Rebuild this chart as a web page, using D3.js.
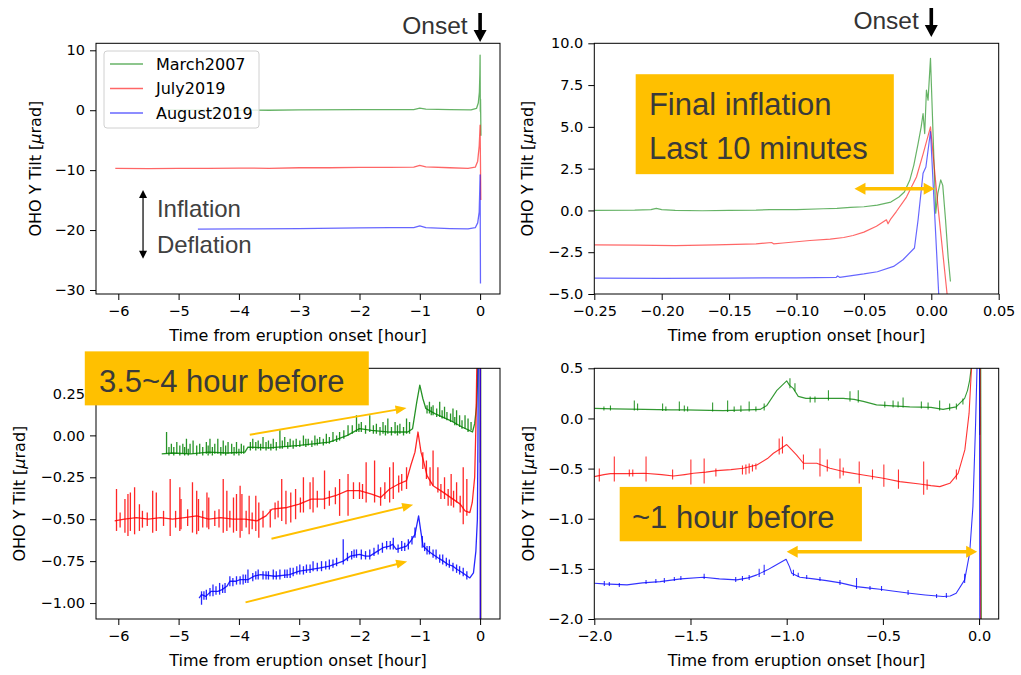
<!DOCTYPE html>
<html>
<head>
<meta charset="utf-8" />
<title>OHO Y Tilt</title>
<script src="https://d3js.org/d3.v7.min.js"></script>
<style>
  body { margin: 0; background: #fff; }
</style>
</head>
<body>
<svg id="chart" width="1021" height="675"></svg>
<script>
// ---- series names / tick labels ----
const seriesNames = ["March2007", "July2019", "August2019"];
const seriesColors = ["green", "red", "blue"];

const xTicksHours = [-6, -5, -4, -3, -2, -1, 0];
const yTicksP1 = [-30, -20, -10, 0, 10];
const xTicksP2 = [-0.25, -0.2, -0.15, -0.1, -0.05, 0, 0.05];
const yTicksP2 = [-5, -2.5, 0, 2.5, 5, 7.5, 10];
const yTicksP3 = [-1, -0.75, -0.5, -0.25, 0, 0.25];
const xTicksP4 = [-2, -1.5, -1, -0.5, 0];
const yTicksP4 = [-2, -1.5, -1, -0.5, 0, 0.5];

// ---- panel 1: whole record, offsets 0 / -10 / -20 ----
const p1Green = [[-5.3,0.05],[-4.5,0.02],[-3.5,0.0],[-3.0,0.05],[-2.0,0.1],[-1.5,0.1],[-1.1,0.1],[-1.0,0.35],[-0.9,0.2],[-0.5,0.1],[-0.15,0.05],[-0.06,0.3],[-0.03,1.2],[-0.012,3.0],[-0.004,6.0],[0.0,9.2],[0.0033,-0.16],[0.007,1.83],[0.0142,-4.25]];
const p1Red = [[-6.05,-9.7],[-5.5,-9.75],[-5.0,-9.7],[-4.5,-9.7],[-4.0,-9.65],[-3.5,-9.7],[-3.0,-9.6],[-2.5,-9.6],[-2.0,-9.55],[-1.5,-9.55],[-1.1,-9.5],[-1.0,-9.2],[-0.9,-9.45],[-0.5,-9.6],[-0.2,-9.7],[-0.08,-9.5],[-0.04,-8.5],[-0.015,-6.0],[-0.004,-3.5],[0.0,-2.5],[0.012,-15.0]];
const p1Blue = [[-4.68,-19.85],[-4.0,-19.8],[-3.0,-19.75],[-2.0,-19.65],[-1.5,-19.6],[-1.1,-19.6],[-1.0,-19.3],[-0.9,-19.6],[-0.5,-19.75],[-0.2,-19.8],[-0.08,-19.6],[-0.04,-18.8],[-0.015,-17.0],[-0.005,-13.0],[0.0,-10.8],[0.006,-28.9]];

// ---- panel 2: last 15 minutes ----
const p2Green = [[-0.25,0.0],[-0.22,0.02],[-0.208,0.05],[-0.204,0.12],[-0.2,0.05],[-0.19,0.0],[-0.17,-0.02],[-0.15,0.0],[-0.13,0.02],[-0.12,0.05],[-0.1,0.05],[-0.08,0.1],[-0.07,0.12],[-0.06,0.18],[-0.05,0.22],[-0.04,0.32],[-0.03,0.5],[-0.024,0.8],[-0.02,1.1],[-0.016,1.8],[-0.013,2.7],[-0.0098,4.0],[-0.0075,5.0],[-0.0061,5.8],[-0.0049,4.6],[-0.0036,7.2],[-0.0024,6.6],[-0.0006,9.1],[0.0033,-0.16],[0.0048,1.0],[0.007,1.83],[0.0085,1.5],[0.0105,-0.5],[0.0125,-2.8],[0.0142,-4.25]];
const p2Red = [[-0.25,-2.06],[-0.22,-2.08],[-0.19,-2.1],[-0.16,-2.06],[-0.13,-2.0],[-0.1185,-1.92],[-0.117,-2.0],[-0.11,-1.95],[-0.09,-1.8],[-0.075,-1.72],[-0.065,-1.62],[-0.058,-1.5],[-0.05,-1.3],[-0.0407,-0.95],[-0.0333,-0.56],[-0.0321,-0.8],[-0.03,-0.5],[-0.0258,-0.05],[-0.0184,0.8],[-0.011,2.0],[-0.006,3.4],[-0.0006,5.0],[0.005,0.2],[0.0117,-5.0],[0.013,-5.5]];
const p2Blue = [[-0.25,-4.05],[-0.2,-4.07],[-0.15,-4.05],[-0.1,-4.03],[-0.0705,-4.0],[-0.0695,-3.92],[-0.068,-4.0],[-0.05,-3.8],[-0.04,-3.67],[-0.028,-3.35],[-0.021,-2.95],[-0.0125,-2.25],[-0.0098,-0.56],[-0.0061,2.23],[-0.004,2.6],[-0.0006,4.72],[0.0055,-5.0],[0.007,-6.0]];

// ---- panel 3: fine scale, whole record (line + spikes [h, low, high]) ----
const p3Green = [[-5.28,-0.11],[-5.1,-0.105],[-4.8,-0.11],[-4.5,-0.1],[-4.2,-0.105],[-3.9,-0.1],[-3.85,-0.07],[-3.5,-0.075],[-3.0,-0.06],[-2.5,-0.04],[-2.2,0.0],[-2.0,0.04],[-1.8,0.03],[-1.5,0.02],[-1.2,0.02],[-1.12,0.04],[-1.05,0.2],[-1.0,0.3],[-0.95,0.22],[-0.9,0.16],[-0.75,0.13],[-0.5,0.09],[-0.3,0.05],[-0.18,0.03],[-0.126,0.02],[-0.09,0.07],[-0.06,0.17],[-0.045,0.3],[-0.04,0.39],[-0.03,0.6],[0.0,9.2],[0.0033,-0.16],[0.007,1.83],[0.0142,-4.25]];
const p3GreenSpikes = [[-5.2,-0.11,0.02],[-5.12,-0.11,-0.05],[-5.03,-0.11,-0.04],[-4.93,-0.11,-0.05],[-4.87,-0.11,-0.02],[-4.81,-0.11,-0.05],[-4.76,-0.11,-0.03],[-4.65,-0.11,-0.05],[-4.54,-0.11,-0.04],[-4.48,-0.11,-0.02],[-4.4,-0.11,-0.05],[-4.35,-0.11,-0.02],[-4.26,-0.11,-0.03],[-4.18,-0.11,-0.04],[-4.12,-0.11,-0.05],[-4.04,-0.11,-0.04],[-3.96,-0.11,-0.05],[-3.77,-0.08,-0.02],[-3.68,-0.08,-0.03],[-3.6,-0.08,-0.01],[-3.51,-0.08,-0.03],[-3.43,-0.08,-0.02],[-3.32,-0.08,0.03],[-3.24,-0.07,-0.01],[-3.15,-0.07,-0.02],[-3.05,-0.07,-0.02],[-2.93,-0.06,0.0],[-2.85,-0.06,-0.02],[-2.74,-0.06,0.0],[-2.66,-0.05,-0.01],[-2.55,-0.05,0.01],[-2.44,-0.04,0.02],[-2.33,-0.03,0.02],[-2.19,0.0,0.06],[-2.05,0.02,0.12],[-1.97,0.02,0.08],[-1.83,0.02,0.12],[-1.72,0.01,0.07],[-1.61,0.01,0.08],[-1.53,0.01,0.1],[-1.41,0.01,0.08],[-1.33,0.01,0.07],[-1.22,0.01,0.1],[-1.17,0.01,0.08],[-0.84,0.13,0.2],[-0.78,0.12,0.18],[-0.67,0.11,0.2],[-0.59,0.1,0.17],[-0.45,0.08,0.16],[-0.39,0.06,0.15],[-0.34,0.05,0.12],[-0.25,0.04,0.12],[-0.2,0.02,0.1],
  [-5.16,-0.12,-0.07],[-5.08,-0.12,-0.07],[-4.98,-0.12,-0.06],[-4.9,-0.12,-0.07],[-4.84,-0.12,-0.08],[-4.7,-0.12,-0.06],[-4.6,-0.12,-0.07],[-4.51,-0.12,-0.06],[-4.44,-0.12,-0.07],[-4.3,-0.12,-0.07],[-4.22,-0.12,-0.06],[-4.08,-0.12,-0.07],[-4.0,-0.12,-0.08],[-3.92,-0.11,-0.06],[-3.81,-0.09,-0.04],[-3.72,-0.09,-0.04],[-3.64,-0.09,-0.05],[-3.55,-0.09,-0.04],[-3.47,-0.09,-0.05],[-3.38,-0.09,-0.04],[-3.28,-0.08,-0.03],[-3.19,-0.08,-0.04],[-3.1,-0.08,-0.03],[-2.99,-0.07,-0.03],[-2.89,-0.07,-0.02],[-2.79,-0.07,-0.03],[-2.7,-0.06,-0.02],[-2.6,-0.06,-0.02],[-2.5,-0.05,-0.01],[-2.38,-0.04,0.0],[-2.26,-0.02,0.03],[-2.12,0.01,0.06],[-2.01,0.02,0.07],[-1.9,0.01,0.06],[-1.77,0.01,0.06],[-1.66,0.0,0.05],[-1.57,0.0,0.06],[-1.47,0.0,0.05],[-1.37,0.0,0.06],[-1.27,0.0,0.05],[-0.88,0.13,0.18],[-0.81,0.12,0.17],[-0.72,0.11,0.16],[-0.63,0.1,0.15],[-0.55,0.09,0.14],[-0.49,0.08,0.13],[-0.42,0.06,0.11],[-0.3,0.04,0.09],[-0.15,0.03,0.08]];
const p3Red = [[-6.06,-0.51],[-5.9,-0.5],[-5.7,-0.49],[-5.5,-0.5],[-5.3,-0.49],[-5.1,-0.5],[-4.9,-0.49],[-4.7,-0.48],[-4.5,-0.5],[-4.3,-0.49],[-4.1,-0.5],[-3.9,-0.5],[-3.7,-0.51],[-3.55,-0.48],[-3.45,-0.44],[-3.2,-0.43],[-3.0,-0.41],[-2.8,-0.38],[-2.6,-0.38],[-2.4,-0.36],[-2.2,-0.33],[-2.0,-0.33],[-1.8,-0.35],[-1.65,-0.37],[-1.5,-0.32],[-1.35,-0.29],[-1.22,-0.27],[-1.15,-0.18],[-1.08,-0.1],[-1.03,0.02],[-0.98,-0.1],[-0.94,-0.15],[-0.88,-0.24],[-0.78,-0.3],[-0.61,-0.34],[-0.45,-0.38],[-0.33,-0.41],[-0.25,-0.45],[-0.17,-0.46],[-0.13,-0.4],[-0.09,-0.25],[-0.07,0.05],[-0.055,0.4],[-0.05,0.6],[0.0,5.0],[0.0117,-5.0]];
const p3RedSpikes = [[-6.03,-0.57,-0.32],[-5.89,-0.58,-0.38],[-5.84,-0.6,-0.35],[-5.8,-0.57,-0.34],[-5.73,-0.59,-0.31],[-5.65,-0.57,-0.41],[-5.43,-0.58,-0.33],[-5.37,-0.57,-0.34],[-5.14,-0.6,-0.26],[-4.98,-0.57,-0.31],[-4.96,-0.56,-0.38],[-4.77,-0.58,-0.28],[-4.7,-0.59,-0.33],[-4.67,-0.57,-0.38],[-4.53,-0.55,-0.34],[-4.5,-0.56,-0.37],[-4.26,-0.58,-0.26],[-4.2,-0.57,-0.33],[-4.09,-0.58,-0.37],[-4.04,-0.57,-0.35],[-3.98,-0.61,-0.3],[-3.95,-0.57,-0.35],[-3.83,-0.59,-0.36],[-3.72,-0.57,-0.36],[-3.67,-0.61,-0.4],[-3.48,-0.55,-0.44],[-3.29,-0.51,-0.26],[-3.22,-0.53,-0.33],[-3.14,-0.52,-0.34],[-3.06,-0.5,-0.32],[-2.93,-0.46,-0.25],[-2.82,-0.44,-0.28],[-2.77,-0.46,-0.25],[-2.58,-0.44,-0.21],[-2.33,-0.48,-0.26],[-2.19,-0.48,-0.23],[-1.89,-0.4,-0.16],[-1.75,-0.4,-0.15],[-1.5,-0.4,-0.19],[-1.44,-0.38,-0.16],[-1.22,-0.32,-0.19],[-0.89,-0.26,-0.15],[-0.78,-0.3,-0.09],[-0.7,-0.34,-0.19],[-0.59,-0.38,-0.25],[-0.48,-0.42,-0.23],[-0.39,-0.4,-0.28],[-0.28,-0.53,-0.19],[-0.22,-0.48,-0.26],
  [-5.97,-0.55,-0.46],[-5.6,-0.55,-0.45],[-5.52,-0.54,-0.46],[-5.25,-0.54,-0.45],[-5.05,-0.55,-0.45],[-4.85,-0.54,-0.44],[-4.6,-0.55,-0.45],[-4.4,-0.54,-0.45],[-4.33,-0.55,-0.44],[-4.15,-0.55,-0.45],[-3.88,-0.55,-0.45],[-3.78,-0.56,-0.46],[-3.6,-0.55,-0.45],[-3.4,-0.5,-0.4],[-3.35,-0.49,-0.39],[-2.98,-0.46,-0.37],[-2.7,-0.43,-0.33],[-2.5,-0.42,-0.33],[-2.4,-0.41,-0.31],[-2.1,-0.38,-0.28],[-2.0,-0.38,-0.28],[-1.95,-0.38,-0.29],[-1.65,-0.42,-0.31],[-1.58,-0.38,-0.28],[-1.35,-0.34,-0.24],[-1.3,-0.33,-0.23],[-0.95,-0.2,-0.1],[-0.83,-0.3,-0.19],[-0.65,-0.38,-0.29],[-0.53,-0.42,-0.32],[-0.44,-0.43,-0.33],[-0.33,-0.46,-0.36]];
const p3Blue = [[-4.66,-0.97],[-4.62,-0.95],[-4.55,-0.96],[-4.46,-0.93],[-4.35,-0.93],[-4.28,-0.92],[-4.2,-0.9],[-4.15,-0.87],[-4.05,-0.87],[-3.98,-0.86],[-3.85,-0.86],[-3.75,-0.84],[-3.64,-0.83],[-3.4,-0.84],[-3.16,-0.83],[-3.0,-0.81],[-2.82,-0.8],[-2.65,-0.79],[-2.5,-0.78],[-2.35,-0.76],[-2.27,-0.75],[-2.15,-0.72],[-2.0,-0.71],[-1.9,-0.72],[-1.83,-0.72],[-1.7,-0.69],[-1.61,-0.67],[-1.5,-0.66],[-1.45,-0.65],[-1.39,-0.68],[-1.3,-0.67],[-1.22,-0.66],[-1.15,-0.63],[-1.08,-0.59],[-1.02,-0.48],[-0.98,-0.58],[-0.945,-0.66],[-0.86,-0.69],[-0.78,-0.71],[-0.7,-0.73],[-0.61,-0.75],[-0.53,-0.77],[-0.45,-0.78],[-0.38,-0.8],[-0.33,-0.81],[-0.25,-0.83],[-0.17,-0.85],[-0.11,-0.82],[-0.07,-0.69],[-0.045,-0.5],[-0.035,0.0],[-0.03,0.5],[0.0,4.7],[0.0055,-5.0]];
const p3BlueSpikes = [[-4.62,-1.01,-0.93],[-4.54,-0.98,-0.92],[-4.43,-0.96,-0.89],[-4.32,-0.95,-0.88],[-4.23,-0.94,-0.88],[-4.15,-0.9,-0.84],[-4.04,-0.89,-0.84],[-3.93,-0.89,-0.83],[-3.85,-0.88,-0.8],[-3.77,-0.87,-0.82],[-3.68,-0.86,-0.8],[-3.6,-0.86,-0.81],[-3.51,-0.86,-0.81],[-3.43,-0.86,-0.8],[-3.32,-0.86,-0.8],[-3.24,-0.85,-0.8],[-3.15,-0.85,-0.79],[-3.04,-0.83,-0.78],[-2.99,-0.83,-0.77],[-2.88,-0.82,-0.77],[-2.77,-0.81,-0.75],[-2.63,-0.81,-0.75],[-2.5,-0.8,-0.74],[-2.38,-0.78,-0.73],[-2.27,-0.77,-0.62],[-2.13,-0.74,-0.69],[-2.05,-0.73,-0.68],[-1.97,-0.74,-0.68],[-1.83,-0.74,-0.68],[-1.69,-0.71,-0.65],[-1.55,-0.68,-0.63],[-1.44,-0.68,-0.61],[-1.3,-0.69,-0.63],[-1.19,-0.68,-0.62],[-1.08,-0.61,-0.55],[-0.92,-0.69,-0.64],[-0.84,-0.71,-0.66],[-0.73,-0.74,-0.68],[-0.62,-0.77,-0.71],[-0.51,-0.79,-0.74],[-0.39,-0.82,-0.77],[-0.28,-0.84,-0.79],
  [-4.58,-0.98,-0.93],[-4.48,-0.96,-0.91],[-4.38,-0.95,-0.9],[-4.27,-0.94,-0.89],[-4.1,-0.9,-0.85],[-3.98,-0.89,-0.84],[-3.89,-0.88,-0.83],[-3.72,-0.86,-0.81],[-3.55,-0.86,-0.81],[-3.38,-0.86,-0.81],[-3.2,-0.85,-0.8],[-3.1,-0.84,-0.79],[-2.93,-0.83,-0.78],[-2.82,-0.82,-0.77],[-2.7,-0.81,-0.76],[-2.56,-0.8,-0.75],[-2.44,-0.79,-0.74],[-2.2,-0.75,-0.7],[-2.09,-0.73,-0.68],[-1.9,-0.74,-0.69],[-1.76,-0.72,-0.67],[-1.62,-0.7,-0.64],[-1.49,-0.68,-0.63],[-1.36,-0.7,-0.65],[-1.25,-0.69,-0.64],[-1.13,-0.65,-0.6],[-0.96,-0.67,-0.6],[-0.88,-0.71,-0.66],[-0.78,-0.73,-0.68],[-0.67,-0.76,-0.71],[-0.56,-0.78,-0.73],[-0.45,-0.81,-0.76],[-0.34,-0.83,-0.78],[-0.22,-0.86,-0.81]];

// ---- panel 4: last 2 hours ----
const p4Green = [[-2.0,0.1],[-1.9,0.095],[-1.74,0.09],[-1.6,0.085],[-1.53,0.085],[-1.4,0.08],[-1.33,0.078],[-1.2,0.085],[-1.138,0.09],[-1.103,0.13],[-1.051,0.28],[-1.0,0.375],[-0.985,0.33],[-0.966,0.3],[-0.94,0.22],[-0.9,0.2],[-0.8,0.2],[-0.706,0.2],[-0.65,0.19],[-0.602,0.17],[-0.533,0.135],[-0.45,0.125],[-0.36,0.115],[-0.25,0.11],[-0.187,0.09],[-0.119,0.115],[-0.075,0.2],[-0.06,0.28],[-0.049,0.38],[-0.04,0.52],[0.0,9.2],[0.0033,-0.16],[0.007,1.83],[0.0142,-4.25]];
const p4GreenSpikes = [[-1.95,0.08,0.12],[-1.916,0.08,0.13],[-1.792,0.08,0.18],[-1.775,0.08,0.15],[-1.645,0.075,0.15],[-1.628,0.075,0.12],[-1.558,0.075,0.17],[-1.532,0.07,0.13],[-1.515,0.07,0.12],[-1.385,0.07,0.16],[-1.307,0.065,0.18],[-1.273,0.065,0.12],[-1.238,0.065,0.13],[-1.195,0.07,0.17],[-1.16,0.07,0.12],[-1.117,0.08,0.15],[-0.983,0.3,0.4],[-0.957,0.27,0.35],[-0.878,0.16,0.22],[-0.853,0.16,0.22],[-0.783,0.18,0.28],[-0.671,0.17,0.27],[-0.628,0.16,0.28],[-0.49,0.11,0.17],[-0.447,0.11,0.18],[-0.421,0.11,0.17],[-0.395,0.11,0.21],[-0.3,0.1,0.17],[-0.265,0.09,0.16],[-0.205,0.08,0.18],[-0.153,0.08,0.15],[-0.118,0.09,0.15],[-0.084,0.14,0.2]];
const p4Red = [[-2.0,-0.58],[-1.95,-0.56],[-1.916,-0.55],[-1.83,-0.55],[-1.74,-0.547],[-1.65,-0.56],[-1.588,-0.574],[-1.53,-0.56],[-1.484,-0.547],[-1.42,-0.535],[-1.363,-0.52],[-1.29,-0.51],[-1.225,-0.497],[-1.155,-0.464],[-1.1,-0.4],[-1.069,-0.347],[-1.03,-0.3],[-1.0,-0.26],[-0.975,-0.31],[-0.948,-0.365],[-0.913,-0.447],[-0.844,-0.447],[-0.775,-0.497],[-0.706,-0.53],[-0.602,-0.564],[-0.498,-0.597],[-0.412,-0.63],[-0.308,-0.654],[-0.25,-0.67],[-0.204,-0.68],[-0.152,-0.647],[-0.109,-0.547],[-0.074,-0.314],[-0.052,0.05],[-0.04,0.48],[-0.035,0.7],[0.0,5.0],[0.0117,-5.0]];
const p4RedSpikes = [[-1.974,-0.63,-0.5],[-1.896,-0.63,-0.38],[-1.818,-0.58,-0.51],[-1.8,-0.58,-0.51],[-1.731,-0.63,-0.38],[-1.593,-0.61,-0.51],[-1.498,-0.66,-0.41],[-1.429,-0.65,-0.4],[-1.368,-0.58,-0.5],[-1.23,-0.56,-0.47],[-1.212,-0.56,-0.46],[-1.195,-0.55,-0.45],[-1.178,-0.53,-0.46],[-1.16,-0.51,-0.45],[-1.039,-0.36,-0.2],[-1.022,-0.35,-0.18],[-0.913,-0.51,-0.36],[-0.827,-0.58,-0.3],[-0.789,-0.53,-0.41],[-0.723,-0.6,-0.4],[-0.706,-0.57,-0.49],[-0.623,-0.65,-0.43],[-0.554,-0.61,-0.51],[-0.495,-0.68,-0.46],[-0.419,-0.7,-0.51],[-0.288,-0.76,-0.43],[-0.27,-0.71,-0.61],[-0.118,-0.61,-0.51]];
const p4Blue = [[-2.0,-1.643],[-1.95,-1.65],[-1.83,-1.66],[-1.75,-1.64],[-1.658,-1.627],[-1.55,-1.6],[-1.433,-1.583],[-1.35,-1.6],[-1.26,-1.61],[-1.2,-1.59],[-1.155,-1.56],[-1.1,-1.51],[-1.069,-1.477],[-1.003,-1.404],[-0.985,-1.48],[-0.974,-1.543],[-0.931,-1.583],[-0.86,-1.6],[-0.793,-1.617],[-0.72,-1.64],[-0.637,-1.677],[-0.58,-1.69],[-0.516,-1.703],[-0.45,-1.72],[-0.36,-1.743],[-0.28,-1.76],[-0.187,-1.776],[-0.15,-1.77],[-0.119,-1.743],[-0.075,-1.61],[-0.049,-1.344],[-0.032,-0.879],[-0.018,-0.048],[-0.011,0.48],[-0.008,0.8],[0.0,4.7],[0.0055,-5.0]];
const p4BlueSpikes = [[-1.948,-1.67,-1.62],[-1.922,-1.67,-1.63],[-1.87,-1.68,-1.64],[-1.731,-1.65,-1.61],[-1.68,-1.64,-1.6],[-1.636,-1.64,-1.59],[-1.584,-1.62,-1.58],[-1.55,-1.61,-1.57],[-1.429,-1.6,-1.55],[-1.265,-1.63,-1.58],[-1.23,-1.62,-1.57],[-1.195,-1.61,-1.56],[-1.143,-1.58,-1.5],[-1.117,-1.56,-1.46],[-0.965,-1.57,-1.51],[-0.94,-1.58,-1.54],[-0.896,-1.6,-1.56],[-0.827,-1.62,-1.58],[-0.723,-1.66,-1.61],[-0.637,-1.7,-1.59],[-0.567,-1.71,-1.67],[-0.507,-1.72,-1.67],[-0.369,-1.76,-1.71],[-0.221,-1.79,-1.75],[-0.17,-1.79,-1.74],[-0.075,-1.64,-1.55]];

const svg = d3.select("#chart");
const MPL = "'DejaVu Sans', sans-serif";
const ARIAL = "'Liberation Sans', Arial, sans-serif";
const YELLOW = "#FFC000";

// arrow outline (filled polygon), optional head on both ends
function arrowShape(x1, y1, x2, y2, sw, hw, hl, both) {
  const dx = x2 - x1, dy = y2 - y1, L = Math.hypot(dx, dy);
  const ux = dx / L, uy = dy / L, nx = -uy, ny = ux;
  const P = (t, s) => [x1 + ux * t + nx * s, y1 + uy * t + ny * s];
  const pts = both
    ? [P(0, 0), P(hl, hw / 2), P(hl, sw / 2), P(L - hl, sw / 2), P(L - hl, hw / 2), P(L, 0),
       P(L - hl, -hw / 2), P(L - hl, -sw / 2), P(hl, -sw / 2), P(hl, -hw / 2)]
    : [P(0, sw / 2), P(L - hl, sw / 2), P(L - hl, hw / 2), P(L, 0), P(L - hl, -hw / 2), P(L - hl, -sw / 2), P(0, -sw / 2)];
  return "M" + pts.map((p) => p.join(",")).join("L") + "Z";
}

function drawPanel(p, idx) {
  const x = d3.scaleLinear().domain(p.xDomain).range([p.left, p.left + p.width]);
  const y = d3.scaleLinear().domain(p.yDomain).range([p.top + p.height, p.top]);

  svg.append("clipPath").attr("id", "clip" + idx)
    .append("rect").attr("x", p.left).attr("y", p.top).attr("width", p.width).attr("height", p.height);

  const plot = svg.append("g").attr("clip-path", `url(#clip${idx})`);
  const line = d3.line().x((d) => x(d[0])).y((d) => y(d[1]));

  p.series.forEach((s, i) => {
    const g = plot.append("g")
      .attr("stroke", seriesColors[i])
      .attr("stroke-opacity", p.opacity)
      .attr("fill", "none")
      .attr("stroke-width", p.lw);
    g.append("path").datum(s.line).attr("d", line).attr("stroke-linejoin", "round");
    g.selectAll("line").data(s.spikes || []).join("line")
      .attr("x1", (d) => x(d[0])).attr("x2", (d) => x(d[0]))
      .attr("y1", (d) => y(d[1])).attr("y2", (d) => y(d[2]));
  });

  const xAxis = d3.axisBottom(x).tickValues(p.xTicks).tickFormat(p.xFmt).tickSize(6).tickSizeOuter(0).tickPadding(6);
  const yAxis = d3.axisLeft(y).tickValues(p.yTicks).tickFormat(p.yFmt).tickSize(6).tickSizeOuter(0).tickPadding(5);

  const gx = svg.append("g").attr("transform", `translate(0,${p.top + p.height})`).call(xAxis);
  const gy = svg.append("g").attr("transform", `translate(${p.left},0)`).call(yAxis);
  [gx, gy].forEach((ga) => {
    ga.select(".domain").remove();
    ga.selectAll("text").attr("font-family", MPL).attr("font-size", "14.5px").attr("fill", "#000");
    ga.selectAll("line").attr("stroke", "#000");
  });

  svg.append("rect")
    .attr("x", p.left).attr("y", p.top).attr("width", p.width).attr("height", p.height)
    .attr("fill", "none").attr("stroke", "#000").attr("stroke-width", 1);

  // axis labels
  svg.append("text")
    .attr("x", p.left + p.width / 2).attr("y", p.top + p.height + 41).attr("dy", "0.35em")
    .attr("text-anchor", "middle").attr("font-family", MPL).attr("font-size", "16px")
    .text("Time from eruption onset [hour]");

  const yl = svg.append("text")
    .attr("transform", `translate(${p.ylabelX},${p.top + p.height / 2}) rotate(-90)`)
    .attr("dy", "0.35em").attr("text-anchor", "middle")
    .attr("font-family", MPL).attr("font-size", "16px");
  yl.append("tspan").text("OHO Y Tilt [");
  yl.append("tspan").attr("font-style", "italic").text("\u03bc");
  yl.append("tspan").text("rad]");

  return { x, y };
}

const panels = [
  { left: 96, top: 43.3, width: 404, height: 250.7, xDomain: [-6.37, 0.33], yDomain: [-30.67, 11.17],
    xTicks: xTicksHours, yTicks: yTicksP1, xFmt: d3.format("d"), yFmt: d3.format("d"), opacity: 0.6, lw: 1.3, ylabelX: 35,
    series: [{ line: p1Green }, { line: p1Red }, { line: p1Blue }] },
  { left: 594.3, top: 43.3, width: 404.4, height: 250.7, xDomain: [-0.25, 0.05], yDomain: [-5, 10],
    xTicks: xTicksP2, yTicks: yTicksP2, xFmt: d3.format(".2f"), yFmt: d3.format(".1f"), opacity: 0.6, lw: 1.2, ylabelX: 527.5,
    series: [{ line: p2Green }, { line: p2Red }, { line: p2Blue }] },
  { left: 96, top: 368.3, width: 404, height: 250.7, xDomain: [-6.37, 0.33], yDomain: [-1.095, 0.4],
    xTicks: xTicksHours, yTicks: yTicksP3, xFmt: d3.format("d"), yFmt: d3.format(".2f"), opacity: 0.85, lw: 1.3, ylabelX: 19,
    series: [{ line: p3Green, spikes: p3GreenSpikes }, { line: p3Red, spikes: p3RedSpikes }, { line: p3Blue, spikes: p3BlueSpikes }] },
  { left: 594.3, top: 368.3, width: 404.4, height: 250.7, xDomain: [-2.0, 0.102], yDomain: [-2, 0.5],
    xTicks: xTicksP4, yTicks: yTicksP4, xFmt: d3.format(".1f"), yFmt: d3.format(".1f"), opacity: 0.8, lw: 1.1, ylabelX: 528.3,
    series: [{ line: p4Green, spikes: p4GreenSpikes }, { line: p4Red, spikes: p4RedSpikes }, { line: p4Blue, spikes: p4BlueSpikes }] }
];

const sc = panels.map(drawPanel);

// ---- legend (panel 1) ----
const leg = svg.append("g");
leg.append("rect").attr("x", 104).attr("y", 51).attr("width", 155).attr("height", 77)
  .attr("rx", 3).attr("fill", "#fff").attr("fill-opacity", 0.8).attr("stroke", "#d0d0d0");
seriesNames.forEach((name, i) => {
  const yy = 64 + i * 24.5;
  leg.append("line").attr("x1", 110).attr("x2", 143).attr("y1", yy).attr("y2", yy)
    .attr("stroke", seriesColors[i]).attr("stroke-opacity", 0.6).attr("stroke-width", 1.3);
  leg.append("text").attr("x", 156).attr("y", yy).attr("dy", "0.35em")
    .attr("font-family", MPL).attr("font-size", "16px").text(name);
});

// ---- overlays ----
const ov = svg.append("g");

// Onset markers above the two top panels
[[sc[0], 42, 13], [sc[1], 37, 8]].forEach(([s, tipY, tailY]) => {
  const x0 = s.x(0);
  ov.append("path").attr("d", arrowShape(x0, tailY, x0, tipY, 3.6, 13, 12, false)).attr("fill", "#000");
  ov.append("text").attr("x", x0 - 12.5).attr("y", tipY - 8)
    .attr("text-anchor", "end").attr("font-family", ARIAL).attr("font-size", "24.5px").attr("fill", "#333")
    .text("Onset");
});

// Inflation / Deflation double arrow (panel 1)
{
  const { x, y } = sc[0];
  ov.append("path").attr("d", arrowShape(x(-5.59), y(-13.3), x(-5.59), y(-24.8), 1.2, 8, 8, true)).attr("fill", "#000");
  ov.append("text").attr("x", x(-5.36)).attr("y", y(-17.8))
    .attr("font-family", ARIAL).attr("font-size", "24px").attr("fill", "#404040").text("Inflation");
  ov.append("text").attr("x", x(-5.36)).attr("y", y(-23.8))
    .attr("font-family", ARIAL).attr("font-size", "24px").attr("fill", "#404040").text("Deflation");
}

// Panel 2 box + arrow
{
  const { x, y } = sc[1];
  ov.append("rect").attr("x", x(-0.2193)).attr("y", y(8.15))
    .attr("width", x(-0.0278) - x(-0.2193)).attr("height", y(2.17) - y(8.15)).attr("fill", YELLOW);
  ov.append("text").attr("x", x(-0.2095)).attr("y", y(5.71))
    .attr("font-family", ARIAL).attr("font-size", "31px").attr("fill", "#3a3a3a").text("Final inflation");
  ov.append("text").attr("x", x(-0.2095)).attr("y", y(3.08))
    .attr("font-family", ARIAL).attr("font-size", "31px").attr("fill", "#3a3a3a").text("Last 10 minutes");
  ov.append("path").attr("d", arrowShape(x(-0.057), y(1.29), x(0.0025), y(1.29), 3.5, 12, 11, true)).attr("fill", YELLOW);
}

// Panel 3 box + trend arrows
{
  const { x, y } = sc[2];
  ov.append("rect").attr("x", x(-6.556)).attr("y", y(0.501))
    .attr("width", x(-1.846) - x(-6.556)).attr("height", y(0.179) - y(0.501)).attr("fill", YELLOW);
  ov.append("text").attr("x", x(-6.32)).attr("y", y(0.261))
    .attr("font-family", ARIAL).attr("font-size", "31px").attr("fill", "#3a3a3a").text("3.5~4 hour before");
  const trend = [[-3.82, 0.004, -1.22, 0.163], [-3.46, -0.616, -1.11, -0.414], [-3.89, -0.996, -1.21, -0.752]];
  trend.forEach((t) => {
    ov.append("path").attr("d", arrowShape(x(t[0]), y(t[1]), x(t[2]), y(t[3]), 2, 9, 11, false)).attr("fill", YELLOW);
  });
}

// Panel 4 box + arrow
{
  const { x, y } = sc[3];
  ov.append("rect").attr("x", x(-1.868)).attr("y", y(-0.683))
    .attr("width", x(-0.609) - x(-1.868)).attr("height", y(-1.225) - y(-0.683)).attr("fill", YELLOW);
  ov.append("text").attr("x", x(-1.804)).attr("y", y(-1.095))
    .attr("font-family", ARIAL).attr("font-size", "31px").attr("fill", "#3a3a3a").text("~1 hour before");
  ov.append("path").attr("d", arrowShape(x(-1.0), y(-1.33), x(-0.01), y(-1.33), 3.5, 12, 11, true)).attr("fill", YELLOW);
}
</script>
</body>
</html>
